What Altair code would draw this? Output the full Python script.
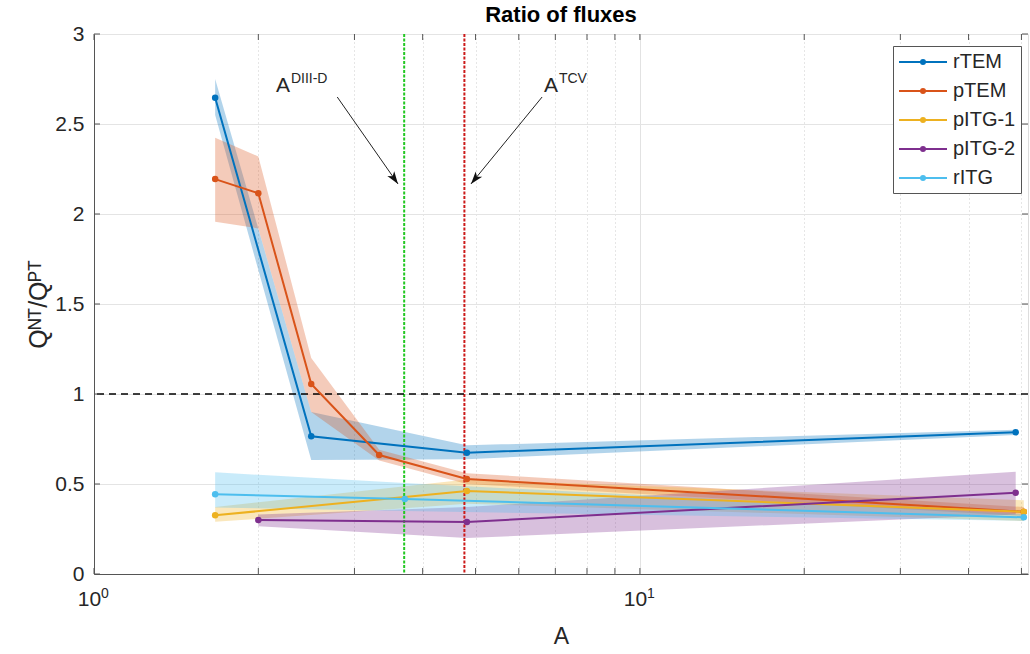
import altair as alt
import numpy as np
import pandas as pd

# ---------------- data ----------------
series_names = ["rTEM", "pTEM", "pITG-1", "pITG-2", "rITG"]
series_colors = ["#0072BD", "#D95319", "#EDB120", "#7E2F8E", "#4DBEEE"]

rtem_A = [1.667, 2.5, 4.82, 48.8]
rtem_val = [2.646, 0.765, 0.674, 0.787]
rtem_lo = [2.55, 0.633, 0.638, 0.772]
rtem_hi = [2.75, 0.90, 0.715, 0.802]

ptem_A = [1.667, 2.0, 2.5, 3.33, 4.82, 50.5]
ptem_val = [2.194, 2.115, 1.056, 0.661, 0.528, 0.346]
ptem_lo = [1.957, 1.92, 0.90, 0.63, 0.50, 0.322]
ptem_hi = [2.424, 2.32, 1.20, 0.69, 0.56, 0.372]

pitg1_A = [1.667, 4.82, 50.5]
pitg1_val = [0.326, 0.461, 0.346]
pitg1_lo = [0.29, 0.39, 0.295]
pitg1_hi = [0.372, 0.525, 0.41]

pitg2_A = [2.0, 4.82, 48.8]
pitg2_val = [0.30, 0.289, 0.452]
pitg2_lo = [0.265, 0.20, 0.33]
pitg2_hi = [0.33, 0.372, 0.568]

ritg_A = [1.667, 3.71, 50.5]
ritg_val = [0.443, 0.417, 0.315]
ritg_lo = [0.37, 0.35, 0.295]
ritg_hi = [0.565, 0.505, 0.332]

vline_A_diiid = [3.70]
vline_A_tcv = [4.77]
ref_level = [1.0]

arrow_x = [2.79, 6.62]
arrow_y = [2.65, 2.65]
arrow_x2 = [3.605, 4.904]
arrow_y2 = [2.167, 2.167]

label_x = [2.154, 6.67]
label_y = [2.678, 2.678]
label_base = ["A", "A"]
label_sup = ["DIII-D", "TCV"]

x_ticks = [1, 2, 3, 4, 5, 6, 7, 8, 9, 10, 20, 30, 40, 50]
x_decades = [1, 10]
x_decade_exp = ["0", "1"]
y_ticks = [0, 0.5, 1, 1.5, 2, 2.5, 3]

chart_title = ["Ratio of fluxes"]

# ---------------- layout ----------------
W, H = 934, 540
XMAX = 51.4
FONT = "Liberation Sans"
TXT = "#262626"
AXC = "#555555"

rows = []
for name, A, v, lo, hi in [
    ("rTEM", rtem_A, rtem_val, rtem_lo, rtem_hi),
    ("pTEM", ptem_A, ptem_val, ptem_lo, ptem_hi),
    ("pITG-1", pitg1_A, pitg1_val, pitg1_lo, pitg1_hi),
    ("pITG-2", pitg2_A, pitg2_val, pitg2_lo, pitg2_hi),
    ("rITG", ritg_A, ritg_val, ritg_lo, ritg_hi),
]:
    for i in range(len(A)):
        rows.append({"series": name, "A": A[i], "val": v[i], "lo": lo[i], "hi": hi[i], "k": i})
df = pd.DataFrame(rows)


def px(a):
    return np.log10(a) / np.log10(XMAX) * W


def py(v):
    return H - v / 3.0 * H


angles = []
for i in range(len(arrow_x)):
    dx = px(arrow_x2[i]) - px(arrow_x[i])
    dy = py(arrow_y2[i]) - py(arrow_y[i])
    angles.append(float(np.degrees(np.arctan2(dx, -dy)) % 360))

arrows = pd.DataFrame({"x": arrow_x, "y": arrow_y, "x2": arrow_x2, "y2": arrow_y2, "ang": angles})
labels = pd.DataFrame({"x": label_x, "y": label_y, "base": label_base, "sup": label_sup})

x_scale = alt.Scale(type="log", domain=[1, XMAX], nice=False)
y_scale = alt.Scale(domain=[0, 3], nice=False, zero=False)
color_scale = alt.Scale(domain=series_names, range=series_colors)

x_axis = alt.Axis(
    values=x_ticks,
    labelExpr="(datum.value == 1 || datum.value == 10) ? '10' : ''",
    labelOffset=-5,
    grid=True,
    gridDash={"condition": {"test": "datum.value == 1 || datum.value == 10", "value": []}, "value": [1, 3]},
    gridColor={"condition": {"test": "datum.value == 1 || datum.value == 10", "value": "#e2e2e2"}, "value": "#cdcdcd"},
    ticks=False,
    domainColor=AXC,
    labelFontSize=21,
    labelFont=FONT,
    labelColor=TXT,
    labelPadding=14,
    labelFlush=False,
    labelOverlap=False,
    title="A",
    titleFont=FONT,
    titleFontSize=23,
    titleFontWeight="normal",
    titleColor=TXT,
    titlePadding=16,
)
y_axis = alt.Axis(
    values=y_ticks,
    labelExpr="datum.value + ''",
    grid=True,
    gridColor="#e4e4e4",
    ticks=False,
    domainColor=AXC,
    labelFontSize=21,
    labelFont=FONT,
    labelColor=TXT,
    labelPadding=10,
    title="Qᴺᵀ/Qᴾᵀ",
    titleFont=FONT,
    titleFontSize=25,
    titleFontWeight="normal",
    titleColor=TXT,
    titlePadding=3,
)

LEG_PATH = "M-1,0L3.8,0M1.6,0A0.2,0.2,0,1,1,1.2,0A0.2,0.2,0,1,1,1.6,0"
legend = alt.Legend(
    title=None,
    orient="none",
    legendX=799,
    legendY=12,
    symbolType=LEG_PATH,
    symbolSize=400,
    symbolStrokeWidth=2,
    symbolOpacity=1,
    symbolFillColor="transparent",
    labelFontSize=20,
    labelFont=FONT,
    labelColor=TXT,
    labelOffset=33,
    labelLimit=300,
    padding=5,
    rowPadding=8,
    strokeColor=AXC,
    fillColor="white",
)

X = lambda f: alt.X(f, type="quantitative", scale=x_scale, axis=x_axis, title="A")
Y = lambda f: alt.Y(f, type="quantitative", scale=y_scale, axis=y_axis, title="Qᴺᵀ/Qᴾᵀ")
C = alt.Color("series:N", scale=color_scale, legend=legend)

base = alt.Chart(df)

bands = base.mark_area(opacity=0.3).encode(
    x=X("A"),
    y=Y("lo"),
    y2="hi:Q",
    color=C,
)

vl1 = alt.Chart(pd.DataFrame({"A": vline_A_diiid})).mark_rule(
    color="#22c822", strokeWidth=2, strokeDash=[3, 1.5]
).encode(x=X("A"))
vl2 = alt.Chart(pd.DataFrame({"A": vline_A_tcv})).mark_rule(
    color="#cc1a1a", strokeWidth=2, strokeDash=[3, 1.5]
).encode(x=X("A"))
hl = alt.Chart(pd.DataFrame({"v": ref_level})).mark_rule(
    color="#000000", strokeWidth=1.4, strokeDash=[7, 5]
).encode(y=Y("v"))

lines = base.mark_line(strokeWidth=2).encode(
    x=X("A"),
    y=Y("val"),
    color=C,
    order="k:Q",
)
points = base.mark_point(filled=True, size=42, opacity=1).encode(
    x=X("A"),
    y=Y("val"),
    color=C,
)

arrow_lines = alt.Chart(arrows).mark_rule(color="#222222", strokeWidth=1).encode(
    x=X("x"),
    y=Y("y"),
    x2="x2:Q",
    y2="y2:Q",
)
HEAD = "M0,0L0.6,1.8L0,1.35L-0.6,1.8Z"
arrow_heads = alt.Chart(arrows).mark_point(
    shape=HEAD, filled=True, size=196, color="#111111", opacity=1
).encode(
    x=X("x2"),
    y=Y("y2"),
    angle=alt.Angle("ang:Q", scale=None),
)

txt_base = alt.Chart(labels).mark_text(
    align="left", baseline="alphabetic", fontSize=21, font=FONT, color=TXT
).encode(
    x=X("x"),
    y=Y("y"),
    text="base:N",
)
txt_sup = alt.Chart(labels).mark_text(
    align="left", baseline="alphabetic", fontSize=14, font=FONT, color=TXT, dx=15, dy=-9
).encode(
    x=X("x"),
    y=Y("y"),
    text="sup:N",
)

# superscript exponents of the decade tick labels (raised above the "10" baseline)
dec = pd.DataFrame({"t": x_decades, "e": x_decade_exp})
exp_text = alt.Chart(dec).mark_text(
    align="left", baseline="alphabetic", fontSize=14, font=FONT, color=TXT, dx=7
).encode(
    x=X("t"),
    y=alt.value(H + 24),
    text="e:N",
)

# chart title as a text mark centred over the plot area
title_text = alt.Chart(pd.DataFrame({"t": chart_title})).mark_text(
    align="center", baseline="alphabetic", fontSize=22, fontWeight="bold", font=FONT, color="#000000"
).encode(
    x=alt.value(W / 2),
    y=alt.value(-12),
    text="t:N",
)

xt = pd.DataFrame({"t": x_ticks})
yt = pd.DataFrame({"t": y_ticks})
tick_b = alt.Chart(xt).mark_rule(color=AXC, strokeWidth=1).encode(
    x=X("t"), y=alt.value(H), y2=alt.value(H - 6)
)
tick_t = alt.Chart(xt).mark_rule(color=AXC, strokeWidth=1).encode(
    x=X("t"), y=alt.value(0), y2=alt.value(6)
)
tick_l = alt.Chart(yt).mark_rule(color=AXC, strokeWidth=1).encode(
    y=Y("t"), x=alt.value(0), x2=alt.value(6)
)
tick_r = alt.Chart(yt).mark_rule(color=AXC, strokeWidth=1).encode(
    y=Y("t"), x=alt.value(W - 6), x2=alt.value(W)
)

chart = alt.layer(
    bands, vl1, vl2, hl, lines, points, arrow_lines, arrow_heads, txt_base, txt_sup,
    exp_text, title_text, tick_b, tick_t, tick_l, tick_r,
).properties(
    width=W,
    height=H,
    padding={"left": 94, "top": 34, "right": 2, "bottom": 80},
    autosize=alt.AutoSizeParams(type="none"),
).configure_view(
    stroke=AXC, strokeWidth=1
).configure(background="white")

chart.save("out.html", embed_options={"renderer": "svg", "actions": False})
